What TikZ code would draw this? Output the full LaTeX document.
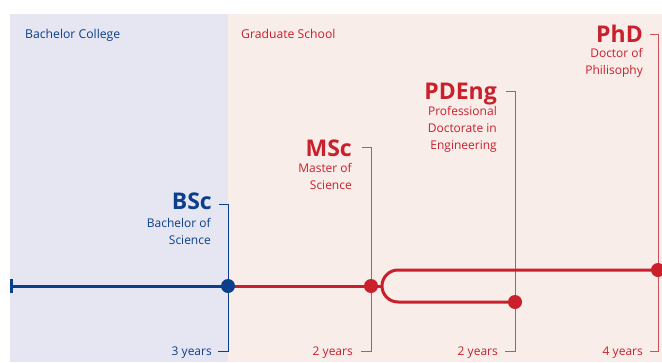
\documentclass[tikz,border=0pt]{standalone}
\usepackage{fontspec}
\setmainfont{Open Sans}
\definecolor{tueblue}{HTML}{0B3F8C}
\definecolor{tuered}{HTML}{C9202C}
\definecolor{redthin}{HTML}{D0505A}
\definecolor{bluebg}{HTML}{E6E6F2}
\definecolor{pinkbg}{HTML}{F9EDEA}
\begin{document}
\begin{tikzpicture}[x=1pt,y=-1pt,
  title/.style={anchor=base east,inner sep=0pt,font=\fontsize{23}{26}\selectfont\bfseries},
  sub/.style={anchor=base east,inner sep=0pt,font=\fontsize{12}{16.8}\selectfont,align=right},
  yrs/.style={anchor=base east,inner sep=0pt,font=\fontsize{12}{14}\selectfont},
  head/.style={anchor=base west,inner sep=0pt,font=\fontsize{12.2}{14}\selectfont},
  thin/.style={line width=0.9pt},
  thick/.style={line width=3pt},
  dot/.style={circle,inner sep=0pt,minimum size=14pt}]
\useasboundingbox (0,0) rectangle (662,362);
\fill[bluebg] (10,14) rectangle (228,362);
\fill[pinkbg] (228,14) rectangle (662,362);

\node[head,text=tueblue] (bc) at (25,38) {Bachelor College};
\node[head,text=tuered] (gs) at (241,38) {Graduate School};

% titles
\node[title,text=tueblue] (bsc) at (212,209) {BSc};
\node[sub,text=tueblue] (bscs) at (211,244) {Bachelor of\\Science};
\node[title,text=tuered] (msc) at (352,156) {MSc};
\node[sub,text=tuered] (mscs) at (352,189) {Master of\\Science};
\node[title,text=tuered] (pdeng) at (497,99) {PDEng};
\node[sub,text=tuered] (pdengs) at (497,149) {Professional\\Doctorate in\\Engineering};
\node[title,text=tuered] (phd) at (643,42) {PhD};
\node[sub,text=tuered] (phds) at (643,74) {Doctor of\\Philisophy};

% years
\node[yrs,text=tueblue] (y1) at (212,355) {3 years};
\node[yrs,text=tuered] (y2) at (353,355) {2 years};
\node[yrs,text=tuered] (y3) at (498,355) {2 years};
\node[yrs,text=tuered] (y4) at (643,355) {4 years};

% bracket coordinates
\coordinate (bT) at (228,204); \coordinate (bB) at (228,351);
\coordinate (mT) at (371,147); \coordinate (mB) at (371,351);
\coordinate (pT) at (515,91);  \coordinate (pB) at (515,351);
\coordinate (hT) at (658,34);  \coordinate (hB) at (658,351);

\draw[thin,tueblue] ([xshift=-9pt]bT) -- (bT) -- (bB) -- ([xshift=-10pt]bB);
\draw[thin,redthin] ([xshift=-9pt]mT) -- (mT) -- (mB) -- ([xshift=-10pt]mB);
\draw[thin,redthin] ([xshift=-9pt]pT) -- (pT) -- (pB) -- ([xshift=-10pt]pB);
\draw[thin,redthin] ([xshift=-8pt]hT) -- (hT) -- (hB) -- ([xshift=-8pt]hB);

% timeline
\coordinate (start) at (11,286);
\coordinate (fork) at (382,286);
\coordinate (up) at (382,270);
\coordinate (lo) at (382,302);
\node[dot] (bdot) at (228,286) {};
\node[dot] (mdot) at (371,286) {};
\node[dot] (pdot) at (515,302) {};
\node[dot] (hdot) at (658,270) {};

\draw[thick,tueblue] ([yshift=-7pt]start) -- ([yshift=7pt]start);
\draw[thick,tueblue] (start) -- (bdot.center);
\draw[thick,tuered] (bdot.center) -- (mdot.center) -- (fork);
\draw[thick,tuered,rounded corners=16pt] (pdot.center) -- (lo) -- (up) -- (hdot.center);

\fill[tueblue] (bdot) circle[radius=7pt];
\fill[tuered] (mdot) circle[radius=7pt];
\fill[tuered] (pdot) circle[radius=7pt];
\fill[tuered] (hdot) circle[radius=7pt];
\end{tikzpicture}
\end{document}
